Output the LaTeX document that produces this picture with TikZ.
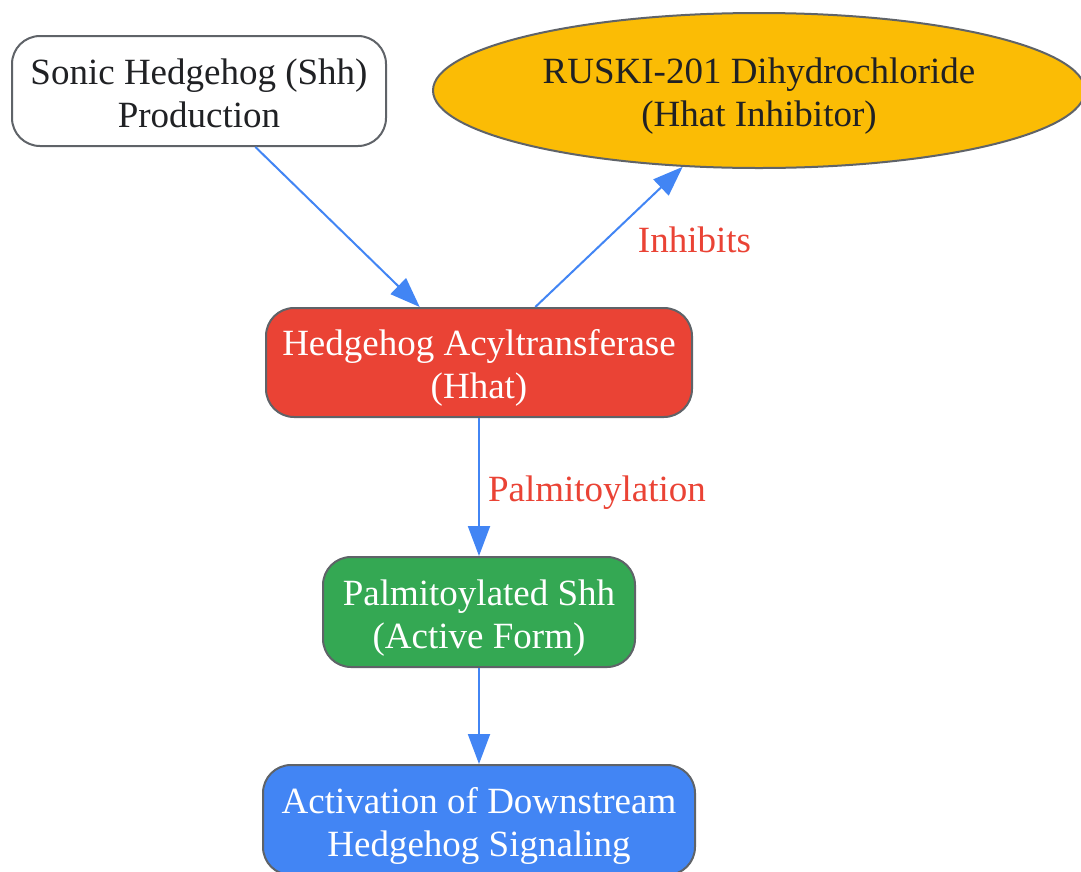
\documentclass[tikz,border=0pt]{standalone}
\usepackage{fontspec}
\setmainfont{Liberation Serif}
\usetikzlibrary{shapes.geometric,arrows.meta,calc}
\definecolor{edgeblue}{HTML}{4285F4}
\definecolor{gred}{HTML}{EA4335}
\definecolor{ggreen}{HTML}{34A853}
\definecolor{gyellow}{HTML}{FBBC05}
\definecolor{gborder}{HTML}{5F6368}
\definecolor{gtext}{HTML}{202124}
\newcommand{\twoline}[2]{\rule{0pt}{29pt}\smash{#1}\\\smash{#2}}
\tikzset{
  box/.style={draw=gborder, line width=2pt, rounded corners=28pt, inner sep=0pt,
    align=center, font=\fontsize{37}{43}\selectfont},
  oval/.style={ellipse, draw=gborder, line width=2pt, inner sep=0pt,
    align=center, font=\fontsize{37}{43}\selectfont},
  conn/.style={draw=edgeblue, line width=2pt, -{Triangle[length=30pt,width=22pt]}},
  elabel/.style={text=gred, font=\fontsize{37}{43}\selectfont, inner sep=0pt}
}
\begin{document}
\begin{tikzpicture}[x=1pt,y=-1pt]
\useasboundingbox (0,0) rectangle (1081,871);
\node[box, fill=white, text=gtext, minimum width=374pt, minimum height=110pt] (shh) at (199,91) {\twoline{Sonic Hedgehog (Shh)}{Production}};
\node[oval, fill=gyellow, text=gtext, minimum width=652pt, minimum height=155pt] (rus) at (759,90.5) {\twoline{RUSKI-201 Dihydrochloride}{(Hhat Inhibitor)}};
\node[box, fill=gred, text=white, minimum width=426pt, minimum height=109pt] (hhat) at (479,362.5) {\twoline{Hedgehog Acyltransferase}{(Hhat)}};
\node[box, fill=ggreen, text=white, minimum width=312pt, minimum height=110pt] (palm) at (479,612) {\twoline{Palmitoylated Shh}{(Active Form)}};
\node[box, fill=edgeblue, text=white, minimum width=432pt, minimum height=110pt] (act) at (479,820) {\twoline{Activation of Downstream}{Hedgehog Signaling}};
\draw[conn] ($(shh.south)!0.3!(shh.south east)$) -- ($(hhat.north)!0.277!(hhat.north west)$);
\draw[conn] ($(hhat.north)!0.263!(hhat.north east)$) -- (rus.225.6)
  node[elabel, pos=0.5, anchor=west, xshift=28pt, yshift=-3pt] {Inhibits};
\draw[conn] (hhat.south) -- (palm.north)
  node[elabel, midway, anchor=west, xshift=8pt, yshift=-6pt] {Palmitoylation};
\draw[conn] (palm.south) -- (act.north);
\end{tikzpicture}
\end{document}
